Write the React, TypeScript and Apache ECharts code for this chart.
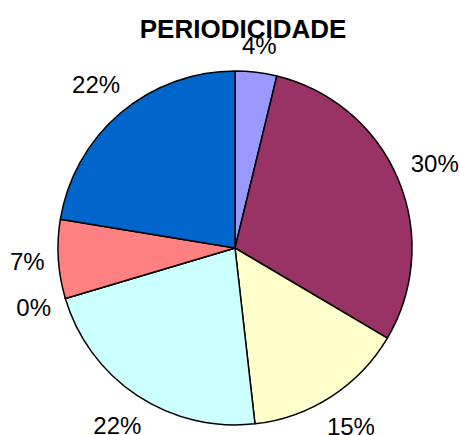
import React, { useEffect, useRef } from "react";
import * as echarts from "echarts";

const categories = ["Categoria 1", "Categoria 2", "Categoria 3", "Categoria 4", "Categoria 5", "Categoria 6", "Categoria 7"];
const values = [3.8, 29.7, 14.7, 22.2, 0, 7.2, 22.4];
const colors = ["#9999FF", "#993366", "#FFFFCC", "#CCFFFF", "#660066", "#FF8080", "#0066CC"];
const titleText = "PERIODICIDADE";

const CX = 235;
const CY = 248;
const R = 177;
const GAP = 13;

export default function App() {
  const ref = useRef<HTMLDivElement>(null);
  useEffect(() => {
    if (!ref.current) return;
    const chart = echarts.init(ref.current, null, { renderer: "svg" });
    const total = values.reduce((a, b) => a + b, 0);
    const midAngle = (i: number) => {
      let before = 0;
      for (let k = 0; k < i; k++) before += values[k];
      return ((before + values[i] / 2) / total) * Math.PI * 2;
    };
    chart.setOption({
      animation: false,
      backgroundColor: "#ffffff",
      title: {
        text: titleText,
        left: 238,
        top: 11,
        textAlign: "center",
        textStyle: { fontFamily: "Liberation Sans", fontWeight: "bold", fontSize: 26, color: "#000" },
      },
      series: [
        {
          type: "pie",
          center: [CX, CY],
          radius: R,
          startAngle: 90,
          clockwise: true,
          avoidLabelOverlap: false,
          data: values.map((v, i) => ({ name: categories[i], value: v, itemStyle: { color: colors[i] } })),
          itemStyle: { borderColor: "#000", borderWidth: 1.5 },
          label: {
            show: true,
            position: "outside",
            formatter: (p: any) => `${Math.round(p.value)}%`,
            fontFamily: "Liberation Sans",
            fontSize: 24,
            color: "#000",
          },
          labelLine: { show: false },
          labelLayout: (p: any) => {
            const a = midAngle(p.dataIndex);
            const dx = Math.sin(a);
            const dy = -Math.cos(a);
            const w = p.labelRect.width;
            const h = p.labelRect.height;
            const d = R + GAP + (Math.abs(dx) * w) / 2 + (Math.abs(dy) * h) / 2;
            return { x: CX + dx * d, y: CY + dy * d, align: "center", verticalAlign: "middle" };
          },
          emphasis: { disabled: true },
        },
      ],
    });
    return () => chart.dispose();
  }, []);
  return <div ref={ref} style={{ position: "fixed", left: 0, top: 0, width: 460, height: 435 }} />;
}
